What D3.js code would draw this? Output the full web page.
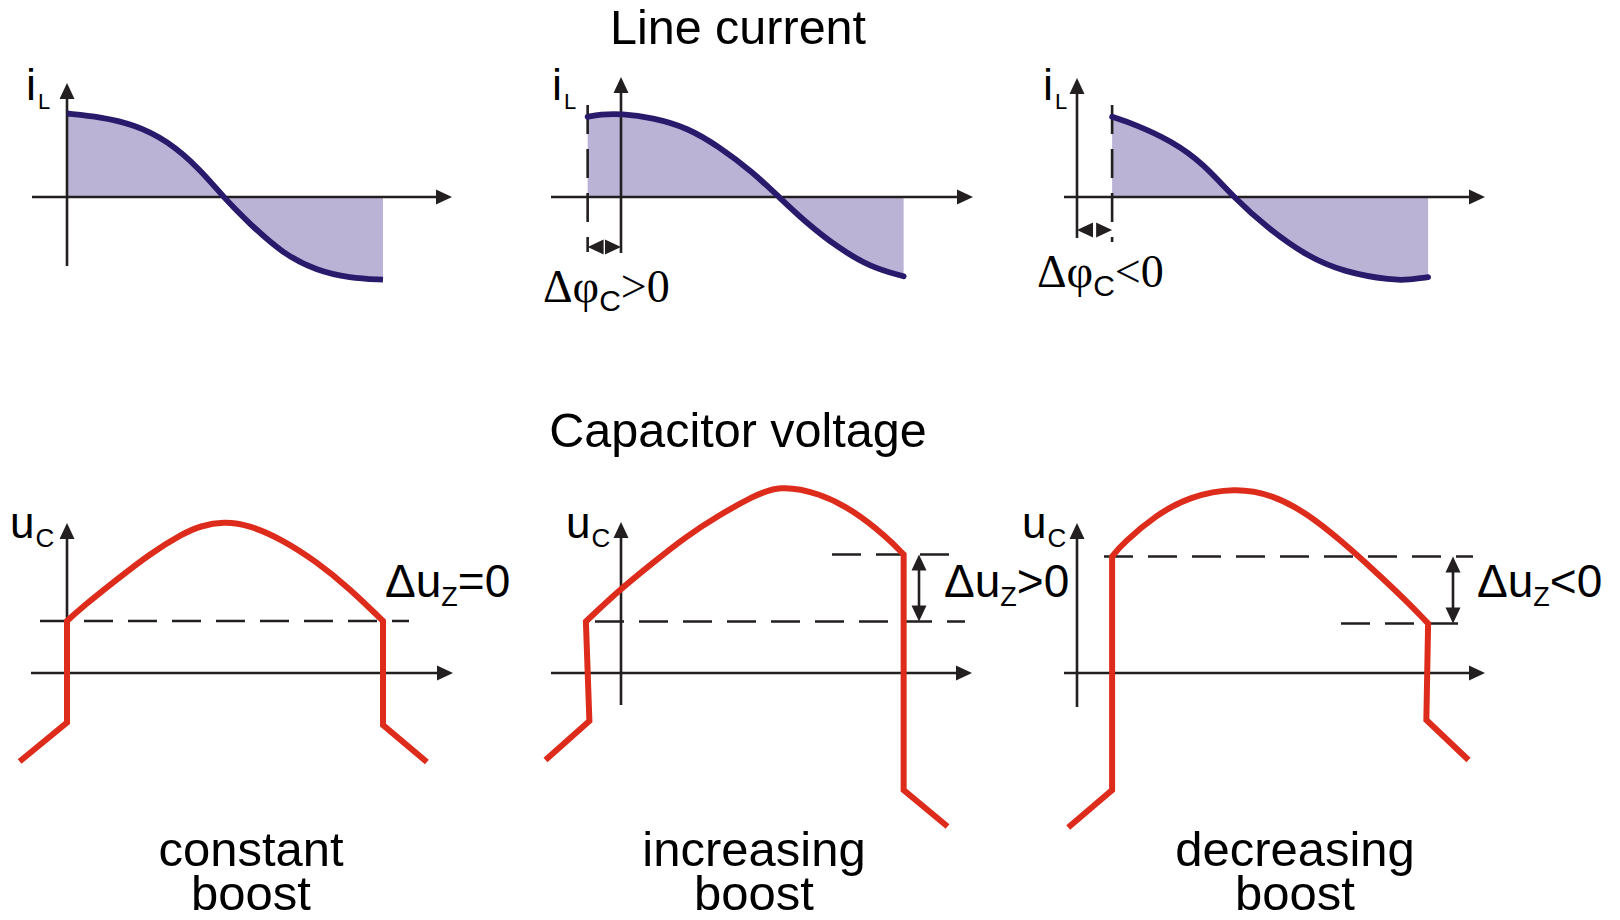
<!DOCTYPE html>
<html>
<head>
<meta charset="utf-8">
<title>Line current and capacitor voltage</title>
<script src="https://cdn.jsdelivr.net/npm/d3@7"></script>
<style>
  body { margin: 0; background: #fff; }
  svg { display: block; font-family: "Liberation Sans", Arial, sans-serif; }
  .axis { stroke: #231f20; stroke-width: 2.6; fill: none; }
  .dash { stroke: #231f20; stroke-width: 2.6; stroke-dasharray: 29 15; fill: none; }
  .head { fill: #231f20; }
  .il { fill: none; stroke: #2a1a6c; stroke-width: 5.8; }
  .il-area { fill: #bab3d6; }
  .uc { fill: none; stroke: #dd2c1b; stroke-width: 6; stroke-linejoin: miter; }
</style>
</head>
<body>
<svg width="1620" height="920"></svg>
<script>

// line current i_L : phase angle (deg) / per-unit value
var iPhaseConst = [0, 19, 38, 57, 76, 89, 104, 123, 142, 161, 180]
var iValConst   = [1.0, 0.96, 0.87, 0.68, 0.33, 0, -0.32, -0.68, -0.88, -0.97, -0.99]
var iPhaseInc = [-19, -12, 0, 18, 38, 56, 75, 90, 104, 123, 142, 161]
var iValInc   = [0.96, 0.99, 1.0, 0.95, 0.83, 0.6, 0.3, 0, -0.28, -0.6, -0.84, -0.95]
var iPhaseDec = [20, 33, 54, 72, 89, 109, 131, 152, 180, 189, 200]
var iValDec   = [0.96, 0.87, 0.67, 0.4, 0, -0.38, -0.71, -0.9, -1.0, -0.99, -0.96]

// capacitor voltage u_C : phase angle (deg) / value
var uPhaseConst = [-27, 0, 0, 9, 28, 47, 66, 76, 89, 104, 123, 142, 161, 180, 180, 205]
var uValConst   = [-1.77, -0.99, 1.04, 1.33, 1.86, 2.38, 2.79, 2.94, 3.03, 2.96, 2.66, 2.23, 1.69, 1.04, -1.04, -1.78]
var uPhaseInc = [-43, -18, -20, -1, 18, 37, 56, 75, 90, 113, 132, 151, 161, 161, 186]
var uValInc   = [-1.74, -0.96, 1.03, 1.66, 2.2, 2.73, 3.16, 3.53, 3.76, 3.6, 3.26, 2.73, 2.37, -2.34, -3.07]
var uPhaseDec = [-5, 20, 20, 26, 45, 64, 90, 112, 131, 150, 169, 188, 200, 199, 223]
var uValDec   = [-3.09, -2.34, 2.33, 2.59, 3.16, 3.53, 3.71, 3.56, 3.19, 2.66, 2.06, 1.43, 0.99, -0.94, -1.74]

// phase shift of the current and the Δu_z levels
var phaseShift = [0, -19, 20]
var uzLow  = [1.04, 1.03, 0.99]
var uzHigh = [1.04, 2.37, 2.33]

// texts
var rowTitles = ['Line current', 'Capacitor voltage']
var caseTop = ['constant', 'increasing', 'decreasing']
var caseBottom = ['boost', 'boost', 'boost']
var phiSigns = ['', '>0', '<0']
var uzSigns = ['=0', '>0', '<0']

var iPhase = [iPhaseConst, iPhaseInc, iPhaseDec]
var iVal = [iValConst, iValInc, iValDec]
var uPhase = [uPhaseConst, uPhaseInc, uPhaseDec]
var uVal = [uValConst, uValInc, uValDec]

// layout
var panelX0 = [67, 621, 1077]
var topY0 = 197, botY0 = 673
var degPx = 316 / 180
var smoothCurve = d3.curveBasis

var topLayout = [
	{xAxis: [-35, 385], yTop: 83, yBot: 266, cap: 'butt'},
	{xAxis: [-70, 352], yTop: 77, yBot: 253, cap: 'round', dashY: [105, 252], dimY: 247},
	{xAxis: [-13, 408], yTop: 78, yBot: 238, cap: 'round', dashY: [105, 242], dimY: 230}
]
var botLayout = [
	{xAxis: [-36, 386], yTop: 523, yBot: 705, low: [-27, 342], high: null},
	{xAxis: [-70, 351], yTop: 522, yBot: 705, low: [-26, 344], high: [211, 329], dimX: 298},
	{xAxis: [-13, 408], yTop: 523, yBot: 707, low: [264, 381], high: [27, 396], dimX: 376}
]

var svg = d3.select('svg')

function head(g, x, y, dir) {
	var L = 16, W = 7.5
	var pts = {
		right: [[x, y], [x - L, y - W], [x - L, y + W]],
		left:  [[x, y], [x + L, y - W], [x + L, y + W]],
		up:    [[x, y], [x - W, y + L], [x + W, y + L]],
		down:  [[x, y], [x - W, y - L], [x + W, y - L]]
	}[dir]
	g.append('path').attr('class', 'head').attr('d', d3.line()(pts) + 'Z')
}

function drawAxes(g, x0, y0, lay) {
	g.append('line').attr('class', 'axis')
		.attr('x1', x0 + lay.xAxis[0]).attr('x2', x0 + lay.xAxis[1] - 8)
		.attr('y1', y0).attr('y2', y0)
	head(g, x0 + lay.xAxis[1], y0, 'right')
	g.append('line').attr('class', 'axis')
		.attr('x1', x0).attr('x2', x0)
		.attr('y1', lay.yBot).attr('y2', lay.yTop + 8)
	head(g, x0, lay.yTop, 'up')
}

function label(x, y, parts, anchor) {
	var t = svg.append('text').attr('x', x).attr('y', y).attr('text-anchor', anchor || 'start')
	var shift = 0
	parts.forEach(function(p) {
		var s = p.sub || 0
		t.append('tspan')
			.attr('dy', s - shift)
			.attr('dx', p.dx || 0)
			.attr('font-size', p.size)
			.attr('font-family', p.serif ? '"Liberation Serif", "Times New Roman", serif' : null)
			.text(p.t)
		shift = s
	})
}

// ---- top row: line current
for (var k = 0; k < 3; k++) {
	var lay = topLayout[k]
	var x0 = panelX0[k]
	var g = svg.append('g')
	var xs = d3.scaleLinear().domain([0, 180]).range([x0, x0 + 180 * degPx])
	var ys = d3.scaleLinear().domain([-1, 1]).range([topY0 + 83.5, topY0 - 83.5])
	var pts = iPhase[k].map(function(p, i) { return [p, iVal[k][i]] })

	g.append('path').attr('class', 'il-area')
		.attr('d', d3.area().curve(smoothCurve)
			.x(function(d) { return xs(d[0]) })
			.y0(ys(0))
			.y1(function(d) { return ys(d[1]) })(pts))

	drawAxes(g, x0, topY0, lay)

	if (lay.dashY) {
		g.append('line').attr('class', 'dash')
			.attr('stroke-dasharray', '22 10')
			.attr('x1', xs(phaseShift[k])).attr('x2', xs(phaseShift[k]))
			.attr('y1', lay.dashY[0]).attr('y2', lay.dashY[1])
	}

	g.append('path').attr('class', 'il')
		.attr('stroke-linecap', lay.cap)
		.attr('d', d3.line().curve(smoothCurve)
			.x(function(d) { return xs(d[0]) })
			.y(function(d) { return ys(d[1]) })(pts))

	if (lay.dimY) {
		var xa = Math.min(xs(0), xs(phaseShift[k])), xb = Math.max(xs(0), xs(phaseShift[k]))
		head(g, xa, lay.dimY, 'left')
		head(g, xb, lay.dimY, 'right')
	}
}

// ---- bottom row: capacitor voltage
// straight tails + vertical jumps, smooth arc for the positive part
function ucPath(pts, vals) {
	var first = vals.findIndex(function(v) { return v > 0 })
	var last = vals.length - 1 - vals.slice().reverse().findIndex(function(v) { return v > 0 })
	var lin = d3.line()
	var smooth = d3.line().curve(smoothCurve)
	return lin(pts.slice(0, first + 1)) +
		smooth(pts.slice(first, last + 1)).replace(/^M/, 'L') +
		lin(pts.slice(last)).replace(/^M/, 'L')
}

for (var k = 0; k < 3; k++) {
	var lay = botLayout[k]
	var x0 = panelX0[k]
	var g = svg.append('g')
	var xs = d3.scaleLinear().domain([0, 180]).range([x0, x0 + 180 * degPx])
	var ys = d3.scaleLinear().domain([0, 3]).range([botY0, botY0 - 150])

	drawAxes(g, x0, botY0, lay)

	g.append('line').attr('class', 'dash')
		.attr('x1', x0 + lay.low[0]).attr('x2', x0 + lay.low[1])
		.attr('y1', ys(uzLow[k])).attr('y2', ys(uzLow[k]))
	if (lay.high) {
		g.append('line').attr('class', 'dash')
			.attr('x1', x0 + lay.high[0]).attr('x2', x0 + lay.high[1])
			.attr('y1', ys(uzHigh[k])).attr('y2', ys(uzHigh[k]))
	}

	var pts = uPhase[k].map(function(p, i) { return [xs(p), ys(uVal[k][i])] })
	g.append('path').attr('class', 'uc').attr('d', ucPath(pts, uVal[k]))

	if (lay.dimX) {
		var dx = x0 + lay.dimX
		g.append('line').attr('class', 'axis')
			.attr('x1', dx).attr('x2', dx)
			.attr('y1', ys(uzHigh[k]) + 10).attr('y2', ys(uzLow[k]) - 10)
		head(g, dx, ys(uzHigh[k]), 'up')
		head(g, dx, ys(uzLow[k]), 'down')
	}
}

// ---- texts
label(738, 44, [{t: rowTitles[0], size: 48.5}], 'middle')
label(738, 447, [{t: rowTitles[1], size: 48.5}], 'middle')

var iLabelX = [26, 552, 1043]
var uLabelX = [10, 566, 1022]
var caseX = [251, 754, 1295]
for (var k = 0; k < 3; k++) {
	label(iLabelX[k], 100, [{t: 'i', size: 45}, {t: 'L', size: 22, sub: 9, dx: 2}])
	label(uLabelX[k], 538, [{t: 'u', size: 44}, {t: 'C', size: 26, sub: 9, dx: 1}])
	label(caseX[k], 866, [{t: caseTop[k], size: 49}], 'middle')
	label(caseX[k], 910, [{t: caseBottom[k], size: 49}], 'middle')
}

var phiX = [0, 543, 1037], phiY = [0, 302, 287]
for (var k = 1; k < 3; k++) {
	label(phiX[k], phiY[k], [
		{t: 'Δφ', size: 46, serif: true},
		{t: 'C', size: 30, sub: 9},
		{t: phiSigns[k], size: 46, serif: true, sub: 0}
	])
}

var uzX = [385, 944, 1477]
for (var k = 0; k < 3; k++) {
	label(uzX[k], 597, [
		{t: 'Δu', size: 46},
		{t: 'Z', size: 27, sub: 9},
		{t: uzSigns[k], size: 46, sub: 0}
	])
}

</script>
</body>
</html>
